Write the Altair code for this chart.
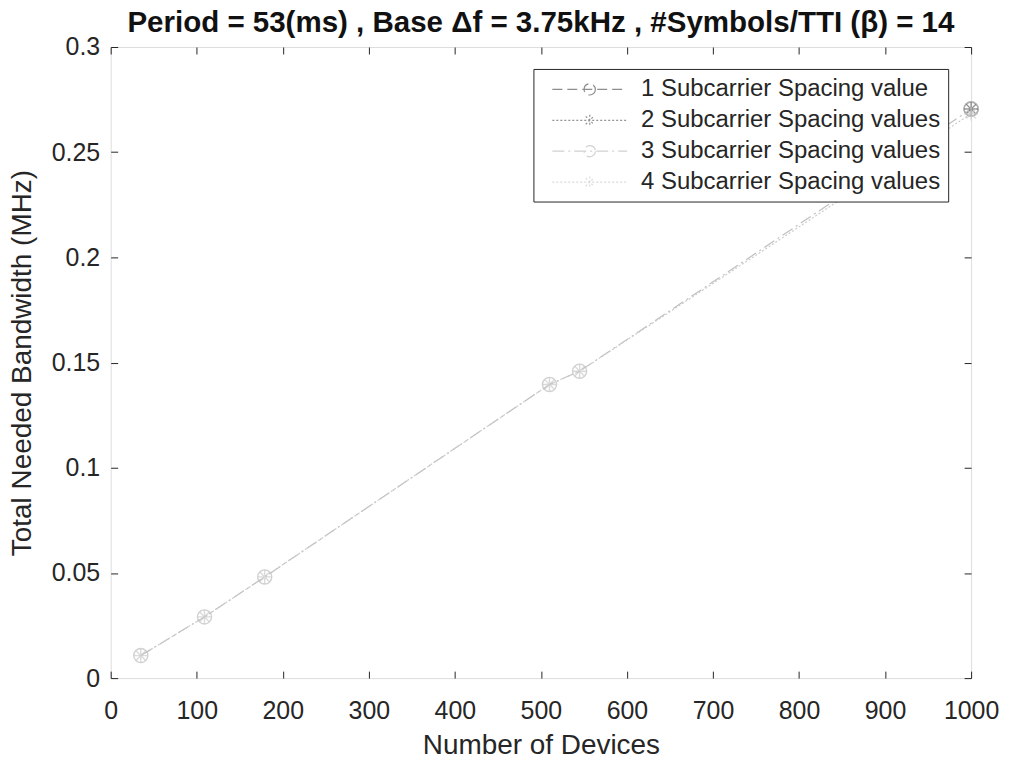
import altair as alt
import pandas as pd

# ---- data ----
devices_s1 = [1000]
bw_s1 = [0.2705]
devices_s2 = [1000]
bw_s2 = [0.2705]
devices_s3 = [35, 109, 179, 510, 545, 1000]
bw_s3 = [0.0107, 0.0291, 0.0481, 0.1396, 0.1459, 0.2705]
devices_s4 = [35, 109, 179, 510, 545, 1000]
bw_s4 = [0.0107, 0.0291, 0.0481, 0.1396, 0.1459, 0.2683]

series_names = [
    "1 Subcarrier Spacing value",
    "2 Subcarrier Spacing values",
    "3 Subcarrier Spacing values",
    "4 Subcarrier Spacing values",
]
series_markers = ["o", "*", "o", "*"]
series_colors = ["#5e5e5e", "#666666", "#bfbfbf", "#cccccc"]
series_dash = [[10, 5], [2, 2], [12, 4, 2, 4], [2, 2]]

x_ticks = [0, 100, 200, 300, 400, 500, 600, 700, 800, 900, 1000]
y_ticks = [0, 0.05, 0.1, 0.15, 0.2, 0.25, 0.3]

title_text = "Period = 53(ms) , Base \u0394f = 3.75kHz , #Symbols/TTI (\u03b2) = 14"
x_title = "Number of Devices"
y_title = "Total Needed Bandwidth (MHz)"

rows = []
for name, mk, xs_, vals in zip(series_names, series_markers,
                               [devices_s1, devices_s2, devices_s3, devices_s4],
                               [bw_s1, bw_s2, bw_s3, bw_s4]):
    for d, v in zip(xs_, vals):
        rows.append({"devices": d, "bw": v, "series": name, "marker": mk})
df = pd.DataFrame(rows)

W, H = 863, 633
FONT = "Liberation Sans"
AX = "#262626"

xs = alt.Scale(domain=[0, 1000], nice=False, zero=False)
ys = alt.Scale(domain=[0, 0.3], nice=False, zero=False)
cs = alt.Scale(domain=series_names, range=series_colors)
ds = alt.Scale(domain=series_names, range=series_dash)

star_path = "M-1,0H1M0,-1V1M-0.7,-0.7L0.7,0.7M-0.7,0.7L0.7,-0.7"
leg_circle = "M-3,0H3M0.45,0A0.45,0.45 0 1,1 -0.45,0A0.45,0.45 0 1,1 0.45,0"
leg_star = "M-3,0H3M0,-0.45V0.45M-0.32,-0.32L0.32,0.32M-0.32,0.32L0.32,-0.32"
leg_paths = [leg_circle, leg_star, leg_circle, leg_star]

base = alt.Chart(df)

lines = base.mark_line(strokeWidth=1.2).encode(
    x=alt.X("devices:Q", scale=xs, axis=alt.Axis(
        values=x_ticks, format="d", tickSize=0, domain=False, grid=False, labelPadding=21,
        labelFlush=False, labelOverlap=False, labelFont=FONT, labelFontSize=25,
        labelColor=AX, title=x_title, titleFont=FONT, titleFontSize=28,
        titleFontWeight="normal", titleColor=AX, titlePadding=8)),
    y=alt.Y("bw:Q", scale=ys, axis=alt.Axis(
        values=y_ticks, format="~g", tickSize=0, domain=False, grid=False,
        labelPadding=11, labelFlush=False, labelOverlap=False, labelFont=FONT,
        labelFontSize=25, labelColor=AX, title=y_title, titleFont=FONT,
        titleFontSize=28, titleFontWeight="normal", titleColor=AX, titlePadding=15)),
    color=alt.Color("series:N", scale=cs),
    strokeDash=alt.StrokeDash("series:N", scale=ds),
    detail="series:N",
)

circles = base.transform_filter(alt.datum.marker == "o").mark_point(
    shape="circle", size=200, strokeWidth=1.4, filled=False
).encode(
    x=alt.X("devices:Q", scale=xs, axis=None),
    y=alt.Y("bw:Q", scale=ys, axis=None),
    color=alt.Color("series:N", scale=cs),
)

stars = base.transform_filter(alt.datum.marker == "*").mark_point(
    shape=star_path, size=190, strokeWidth=1.4, filled=False
).encode(
    x=alt.X("devices:Q", scale=xs, axis=None),
    y=alt.Y("bw:Q", scale=ys, axis=None),
    color=alt.Color("series:N", scale=cs),
)

legend_layer = base.transform_filter("false").mark_point(
    filled=False, strokeWidth=1.2
).encode(
    x=alt.X("devices:Q", scale=xs, axis=None),
    y=alt.Y("bw:Q", scale=ys, axis=None),
    color=alt.Color("series:N", scale=cs),
    strokeDash=alt.StrokeDash("series:N", scale=ds),
    shape=alt.Shape("series:N", scale=alt.Scale(domain=series_names, range=leg_paths),
                    legend=alt.Legend(
                        title=None, orient="none", legendX=424, legendY=22,
                        fillColor="white", strokeColor=AX, padding=7,
                        symbolSize=625, symbolStrokeWidth=1.2, symbolOffset=36,
                        labelOffset=38, labelFont=FONT, labelFontSize=24,
                        labelColor=AX, rowPadding=5, labelLimit=500)),
)

tick_a = base.transform_filter("false").mark_point().encode(
    x=alt.X("devices:Q", scale=xs, axis=alt.Axis(
        orient="top", offset=-H, values=x_ticks, labels=False, domain=False,
        grid=False, tickSize=7, tickColor=AX, title=None)),
    y=alt.Y("bw:Q", scale=ys, axis=alt.Axis(
        orient="right", offset=-W, values=y_ticks, labels=False, domain=False,
        grid=False, tickSize=7, tickColor=AX, title=None)),
)

tick_b = base.transform_filter("false").mark_point().encode(
    x=alt.X("devices:Q", scale=xs, axis=alt.Axis(
        orient="bottom", offset=-H, values=x_ticks, labels=False, domain=False,
        grid=False, tickSize=7, tickColor=AX, title=None)),
    y=alt.Y("bw:Q", scale=ys, axis=alt.Axis(
        orient="left", offset=-W, values=y_ticks, labels=False, domain=False,
        grid=False, tickSize=7, tickColor=AX, title=None)),
)

chart = alt.layer(lines, circles, stars, legend_layer, tick_a, tick_b).resolve_axis(
    x="independent", y="independent"
).properties(
    width=W, height=H,
    autosize=alt.AutoSizeParams(type="none"),
    padding={"left": 103, "top": 38, "right": 32, "bottom": 78},
    title=alt.TitleParams(title_text, font=FONT, fontSize=29.6, fontWeight="bold",
                          color="#111111", anchor="middle", offset=-4, frame="group"),
).configure_view(stroke=AX, strokeWidth=1.2).configure(background="white")

chart.save("out.html", embed_options={"renderer": "svg", "actions": False})
